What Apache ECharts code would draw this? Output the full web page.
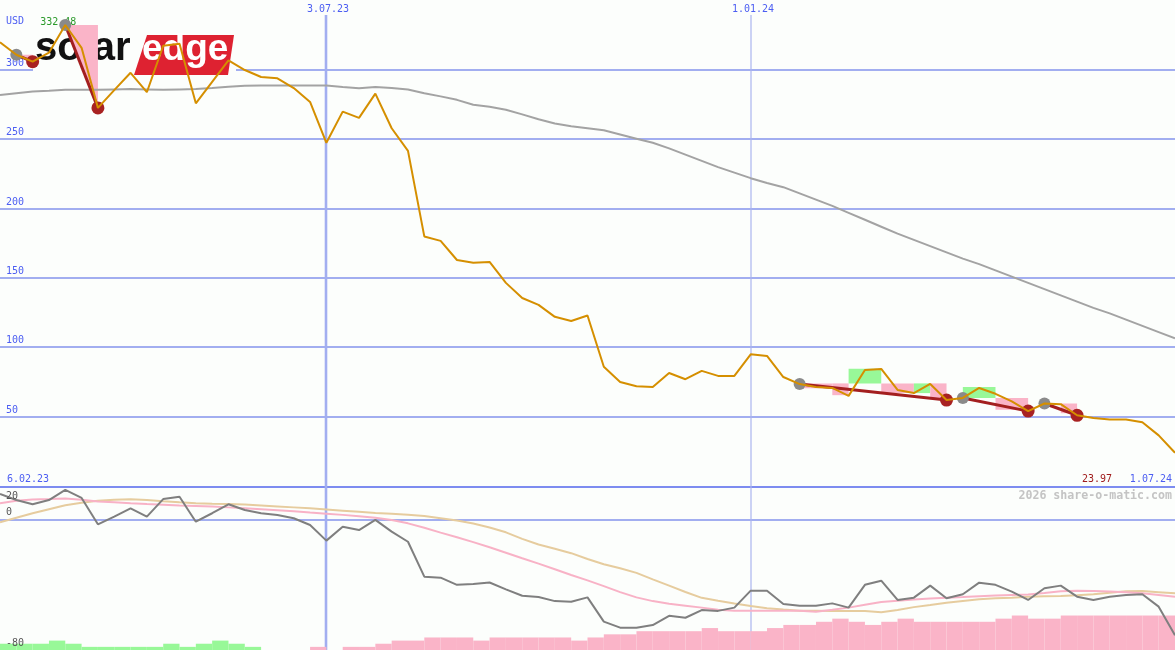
<!DOCTYPE html>
<html><head><meta charset="utf-8">
<script src="https://cdn.jsdelivr.net/npm/echarts@6/dist/echarts.min.js"></script>
<style>html,body{margin:0;padding:0;background:#fcfefc}#c{width:1175px;height:650px}</style>
</head><body><div id="c"></div>
<script>
// Weekly data, week index 1 = 13.02.23 (the range starts at 6.02.23 = index 0), index 73 = 1.07.24
const price = [320,311,306,312.5,332.48,316,272.7,285.5,298,284,317.5,319,276,291.5,307,300,295,294,287,277,
  247.5,270,265.5,283,258,241.7,180,176.8,163,161,161.6,146.5,135.6,130.6,122,119,123,86,75,72,
  71.4,81.5,77,83,79.4,79.4,95,93.8,78.6,73.5,71.4,70.7,65,83.7,84.4,69.3,67,73.6,62,63.5,
  70.7,66.5,61,54,59.5,59,51,49,48,48,46,36.5,23.97];
const movingAvg = [282,283.3,284.5,285,285.7,285.7,285.7,286,286.3,286,285.7,286,286.3,287,288,288.6,288.8,288.8,288.8,288.8,
  288.8,287.8,286.9,287.8,287,286,283.3,281,278.5,275,273.5,271.3,268,264.5,261.5,259.5,258,256.5,253.5,250.5,
  247.5,243.5,239,234.5,230,226,222,218.5,215.5,211,206.5,202,197,192,187,182,177.5,173,168.5,164,
  160,155.5,151,146.5,142,137.5,133,128.5,124.5,120,115.5,111,106.5];
const oscillator = [15.7,12,9.4,12,18.2,13.3,-2.9,1.8,6.9,1.8,12.6,14,-1.3,3.9,9.4,5.9,3.9,2.8,0.8,-3.3,
  -12.9,-4.4,-6.4,-0.2,-7.4,-13.6,-35,-35.6,-40,-39.5,-38.6,-42.8,-46.7,-47.5,-50,-50.4,-47.7,-62.6,-66.3,-66.3,
  -64.7,-59,-60.2,-55.5,-56,-54,-43.6,-43.6,-51.8,-52.8,-52.8,-51.4,-54,-40,-37.5,-49.3,-47.9,-40.5,-48.3,-45.8,
  -38.7,-40,-44.2,-49.3,-42.1,-40.5,-47.3,-49.3,-47.3,-46.3,-45.8,-53.4,-71];
const oscFast = [10,11.6,12.3,12.6,13,12.2,11.1,10.6,10,9.5,9.1,8.7,8.4,8,7.5,7,6.4,5.8,5.1,4.3,
  3.6,2.9,2.1,1.1,-0.2,-2.3,-5,-8,-10.8,-13.8,-17,-20.3,-23.7,-27,-30.5,-34,-37.3,-40.8,-44.5,-47.7,
  -50,-51.6,-52.8,-54,-55.3,-55.9,-55.9,-55.9,-55.9,-55.9,-56.5,-55.3,-54,-52.3,-50.6,-49.8,-49,-48.4,-47.9,-47.5,
  -47,-46.6,-46.2,-45.9,-45,-44,-43.6,-43.8,-44.1,-44.5,-45.2,-46.2,-47.4];
const oscSlow = [-1.7,1.1,3.9,6.4,8.8,10.3,11.5,12.2,12.5,12,11.2,10.6,10.1,9.8,9.6,9.2,8.7,8.1,7.5,6.9,
  6.2,5.5,4.8,4.1,3.6,3,2.2,0.8,-0.6,-2.4,-4.8,-7.8,-11.8,-15.3,-17.9,-20.6,-24.2,-27.4,-29.8,-32.7,
  -36.7,-40.5,-44.4,-48,-49.8,-51.5,-53,-54.4,-55.2,-55.9,-55.9,-56,-56,-56,-56.8,-55.4,-53.7,-52.4,-51,-49.9,
  -48.9,-48.3,-47.9,-47.4,-47.1,-46.9,-46.4,-45.8,-44.9,-44,-43.8,-44.5,-45.2];
// strength per week interval [w, w+1], w = 1..72
const strengthUp = [2,2,2,3,2,1,1,1,1,1,2,1,2,3,2,1,0,0,0,0,0,0,0,0,0,0,0,0,0,0,0,0,0,0,0,0,0,0,0,0,
  0,0,0,0,0,0,0,0,0,0,0,0,0,0,0,0,0,0,0,0,0,0,0,0,0,0,0,0,0,0,0,0];
const strengthDown = [0,0,0,0,0,0,0,0,0,0,0,0,0,0,0,0,0,0,0,1,0,1,1,2,3,3,4,4,4,3,4,4,4,4,4,3,4,5,5,6,
  6,6,6,7,6,6,6,7,8,8,9,10,9,8,9,10,9,9,9,9,9,10,11,10,10,11,11,11,11,11,11,11];
const signalStartWeeks = [2,5,50,60,65];
const signalEndWeeks = [3,7,59,64,67];
// [fromWeek, toWeek, level, value, direction(+1 up / -1 down), shape]
const signalFills = [
  [2,3,311,306,-1,'tri'],[5,7,332.48,272.7,-1,'tri'],
  [50,52,74,70.5,-1,'rect'],[52,53,74,65.5,-1,'rect'],[53,55,74,84.5,1,'rect'],[55,57,74,67,-1,'rect'],
  [57,58,74,67,1,'rect'],[58,59,74,62.5,-1,'rect'],
  [60,62,63.5,71.4,1,'rect'],[62,64,63.5,55,-1,'rect'],
  [66,67,59.5,52.5,-1,'rect']
];
const priceTicks = [50,100,150,200,250,300];
const oscTicks = [20,0,-80];
const dateMarks = [[21,'3.07.23'],[47,'1.01.24']];
const firstDateLabel = '6.02.23', lastDateLabel = '1.07.24';
const currencyLabel = 'USD';

const BG = '#fcfefc', GRID = '#a2aef0', BLUE_TXT = '#4c5ef2', PINK = '#fab4c8', GREEN = '#98f898';
const FONT = '"DejaVu Sans Mono", monospace';
const W = 1175;
const wk = (arr) => arr.map((v, i) => [i + 1, v]);

const chart = echarts.init(document.getElementById('c'), null, {renderer: 'canvas'});
const trendSeries = signalStartWeeks.map((s, k) => ({
  type: 'line', xAxisIndex: 0, yAxisIndex: 0, z: 4, silent: true, symbol: 'none',
  data: [[s, price[s - 1]], [signalEndWeeks[k], price[signalEndWeeks[k] - 1]]],
  lineStyle: {color: '#a31f1f', width: 3}
}));
chart.setOption({
  animation: false,
  backgroundColor: BG,
  grid: [
    {left: 0, right: 0, top: 0, height: 486},
    {left: 0, right: 0, top: 487, height: 163}
  ],
  xAxis: [
    {type: 'value', gridIndex: 0, min: 1, max: 73, show: false},
    {type: 'value', gridIndex: 1, min: 1, max: 73, show: false}
  ],
  yAxis: [
    {type: 'value', gridIndex: 0, min: 0, max: 350.5, show: false},
    {type: 'value', gridIndex: 1, min: -80, max: 20, show: false},
    {type: 'value', gridIndex: 1, min: 0, max: 52, show: false}
  ],
  series: [
    {
      type: 'custom', xAxisIndex: 0, yAxisIndex: 0, z: 2, silent: true, clip: true,
      data: signalFills.map(f => [f[0], f[2], f[1], f[3]]),
      encode: {x: [0, 2], y: [1, 3]},
      renderItem: (params, api) => {
        const f = signalFills[params.dataIndex];
        const p1 = api.coord([f[0], f[2]]), p2 = api.coord([f[1], f[2]]),
              p3 = api.coord([f[1], f[3]]), p4 = api.coord([f[0], f[3]]);
        const pts = f[5] === 'tri' ? [p1, p2, p3] : [p1, p2, p3, p4];
        return {type: 'polygon', shape: {points: pts}, style: {fill: f[4] > 0 ? GREEN : PINK}};
      }
    },
    {type: 'line', xAxisIndex: 0, yAxisIndex: 0, z: 3, silent: true, symbol: 'none',
     data: wk(movingAvg), lineStyle: {color: '#a3a3a3', width: 2}},
    ...trendSeries,
    {type: 'scatter', xAxisIndex: 0, yAxisIndex: 0, z: 5, silent: true, symbolSize: 12,
     data: signalStartWeeks.map(s => [s, price[s - 1]]), itemStyle: {color: '#8a8a8a', opacity: 1}},
    {type: 'scatter', xAxisIndex: 0, yAxisIndex: 0, z: 5, silent: true, symbolSize: 13,
     data: signalEndWeeks.map(s => [s, price[s - 1]]), itemStyle: {color: '#a82222', opacity: 1}},
    {type: 'line', xAxisIndex: 0, yAxisIndex: 0, z: 6, silent: true, symbol: 'none',
     data: wk(price), lineStyle: {color: '#d58f00', width: 2}},
    {
      type: 'custom', xAxisIndex: 1, yAxisIndex: 2, z: 2, silent: true, clip: true,
      data: strengthUp.map((v, i) => [i + 1, v, strengthDown[i]]),
      encode: {x: 0, y: [1, 2]},
      renderItem: (params, api) => {
        const w = api.value(0), up = api.value(1), dn = api.value(2);
        const v = up > 0 ? up : dn;
        if (!v) return null;
        const a = api.coord([w, 0]), b = api.coord([w + 1, v]);
        return {type: 'rect', shape: {x: a[0], y: b[1], width: b[0] - a[0], height: a[1] - b[1]},
                style: {fill: up > 0 ? GREEN : PINK}};
      }
    },
    {type: 'line', xAxisIndex: 1, yAxisIndex: 1, z: 3, silent: true, symbol: 'none',
     data: wk(oscSlow), lineStyle: {color: '#e6cc9e', width: 2}},
    {type: 'line', xAxisIndex: 1, yAxisIndex: 1, z: 3, silent: true, symbol: 'none',
     data: wk(oscFast), lineStyle: {color: '#f8b2c6', width: 2}},
    {type: 'line', xAxisIndex: 1, yAxisIndex: 1, z: 4, silent: true, symbol: 'none',
     data: wk(oscillator), lineStyle: {color: '#7f7f7f', width: 2}}
  ]
});

// decorations placed through the axes' own scales
const px = (w) => chart.convertToPixel({xAxisIndex: 0}, w);
const py = (v) => chart.convertToPixel({yAxisIndex: 0}, v);
const oy = (v) => chart.convertToPixel({yAxisIndex: 1}, v);
const txt = (x, y, s, color, align, z) => ({
  type: 'text', x: x, y: y, z: z == null ? 1 : z, silent: true,
  style: {text: s, fill: color, font: '10px ' + FONT, align: align || 'left', verticalAlign: 'middle'}
});
const g = [];
priceTicks.forEach(v => {
  const y = Math.round(py(v));
  g.push({type: 'line', z: 0, silent: true, shape: {x1: 0, y1: y, x2: W, y2: y}, style: {stroke: GRID, lineWidth: 2}});
  g.push(txt(6, y - 7, String(v), BLUE_TXT));
});
g.push(txt(6, 21, currencyLabel, BLUE_TXT));
const sepY = Math.round(py(0)) + 1;
g.push({type: 'line', z: 0, silent: true, shape: {x1: 0, y1: sepY, x2: W, y2: sepY}, style: {stroke: '#7d8cf0', lineWidth: 2}});
const zeroY = Math.round(oy(0));
g.push({type: 'line', z: 0, silent: true, shape: {x1: 0, y1: zeroY, x2: W, y2: zeroY}, style: {stroke: GRID, lineWidth: 2}});
oscTicks.forEach(v => {
  const y = Math.max(oy(v) - 7, sepY + 9);
  g.push(txt(6, y, String(v), '#555555', 'left', 10));
});
dateMarks.forEach((d, k) => {
  const x = Math.round(px(d[0]));
  g.push({type: 'line', z: 0, silent: true, shape: {x1: x, y1: 15, x2: x, y2: 650},
          style: {stroke: k === 0 ? GRID : '#aab4ee', lineWidth: k === 0 ? 2.6 : 1.2}});
  g.push(txt(x + 2, 9, d[1], BLUE_TXT, 'center'));
});
g.push(txt(7, 479, firstDateLabel, BLUE_TXT));
g.push(txt(1172, 479, lastDateLabel, BLUE_TXT, 'right'));
const last = price[price.length - 1];
g.push(txt(1112, 479, last.toFixed(2), '#a01c1c', 'right'));
const maxV = Math.max(...price), maxW = price.indexOf(maxV) + 1;
g.push(txt(px(maxW) - 7, py(maxV) - 3, maxV.toFixed(2), '#2a9a2a', 'center'));
g.push({type: 'text', x: 1172, y: 496, z: 1, silent: true,
        style: {text: '2026 share-o-matic.com', fill: '#c4c4c4', font: 'bold 11.6px ' + FONT, align: 'right', verticalAlign: 'middle'}});
// logo
g.push({type: 'rect', z: 1, silent: true, shape: {x: 33, y: 33, width: 203, height: 44}, style: {fill: BG}});
g.push({type: 'polygon', z: 1, silent: true, shape: {points: [[147, 35], [234, 35], [228, 75], [134, 75]]}, style: {fill: '#de2231'}});
g.push({type: 'text', x: 35, y: 49, z: 1, silent: true,
        style: {text: 'solar', fill: '#111111', font: 'bold 40px "Liberation Sans", Arial, sans-serif', align: 'left', verticalAlign: 'middle'}});
g.push({type: 'text', x: 142, y: 50, z: 1, silent: true,
        style: {text: 'edge', fill: '#ffffff', font: 'bold 37px "Liberation Sans", Arial, sans-serif', align: 'left', verticalAlign: 'middle'}});
chart.setOption({graphic: g});
</script></body></html>
